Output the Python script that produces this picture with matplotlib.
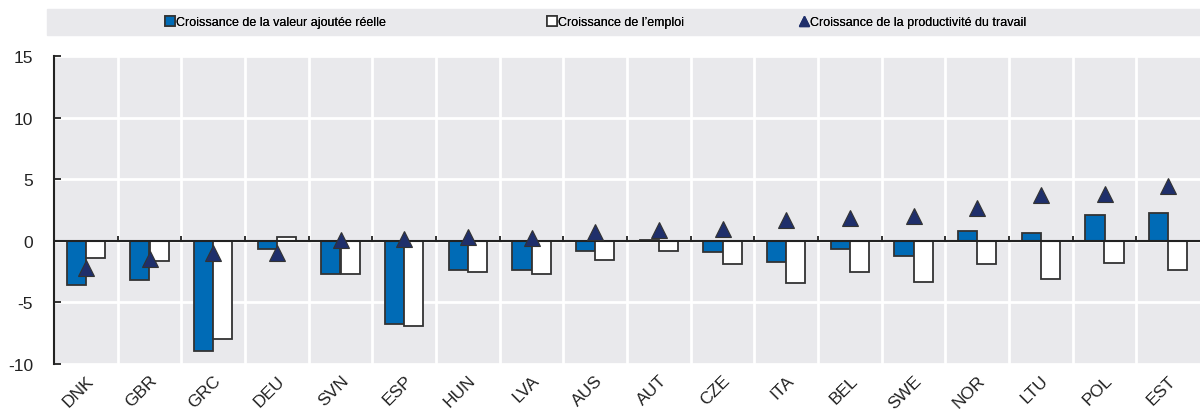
import matplotlib.pyplot as plt
import numpy as np
from matplotlib.lines import Line2D
from matplotlib.patches import Rectangle

plt.rcParams.update({
    "font.family": ["Liberation Sans", "DejaVu Sans"],
    "font.size": 12,
    "axes.unicode_minus": False,
})

countries = ["DNK", "GBR", "GRC", "DEU", "SVN", "ESP", "HUN", "LVA", "AUS",
             "AUT", "CZE", "ITA", "BEL", "SWE", "NOR", "LTU", "POL", "EST"]
va_growth = [-3.56, -3.16, -8.97, -0.67, -2.67, -6.77, -2.33, -2.41, -0.80,
             0.05, -0.93, -1.74, -0.64, -1.25, 0.83, 0.67, 2.08, 2.25]
emp_growth = [-1.41, -1.68, -7.95, 0.32, -2.67, -6.88, -2.54, -2.67, -1.55,
              -0.85, -1.87, -3.44, -2.56, -3.31, -1.92, -3.07, -1.84, -2.33]
prod_growth = [-2.2, -1.5, -0.99, -0.95, 0.05, 0.14, 0.27, 0.24, 0.75,
               0.88, 0.99, 1.65, 1.87, 1.98, 2.67, 3.68, 3.82, 4.47]

labels = ["Croissance de la valeur ajoutée réelle",
          "Croissance de l\u2019emploi",
          "Croissance de la productivité du travail"]

blue = "#006bb6"
navy = "#1f2f6b"
edge = "#333333"
bg = "#e9e9ec"

fig = plt.figure(figsize=(12, 4.1), dpi=100)
ax = fig.add_axes([54 / 1200, 45 / 410, 1 - 54 / 1200, 308 / 410])
ax.set_facecolor(bg)

x = np.arange(len(countries))
w = 0.3
ax.bar(x - w / 2, va_growth, w, color=blue, edgecolor=edge, linewidth=1.3, zorder=3)
ax.bar(x + w / 2, emp_growth, w, color="white", edgecolor=edge, linewidth=1.3, zorder=3)
ax.plot(x, prod_growth, ls="none", marker="^", ms=11, color=navy,
        markeredgecolor=edge, markeredgewidth=0.8, zorder=5)

ax.axhline(0, color="#222222", lw=1.5, zorder=4)
ax.vlines(x[:-1] + 0.5, 0, 0.4, color="#222222", lw=1.3, zorder=4)

ax.set_xlim(-0.5, len(countries) - 0.5)
ax.set_ylim(-10, 15)
ax.set_yticks([-10, -5, 0, 5, 10, 15])
ax.set_xticks(x)
ax.set_xticklabels(countries, rotation=45, ha="right", va="top",
                   rotation_mode="anchor", fontsize=12.5, color="#222222")
ax.set_xticks(x[:-1] + 0.5, minor=True)
ax.tick_params(axis="x", which="both", length=0, pad=6)
ax.tick_params(axis="y", length=5, direction="in", width=1.3,
               labelsize=12.5, colors="#222222", pad=15)

ax.grid(True, axis="y", color="white", lw=2, zorder=1)
ax.grid(True, axis="x", which="minor", color="white", lw=2, zorder=1)
ax.set_axisbelow(True)

for s in ["top", "right", "bottom"]:
    ax.spines[s].set_visible(False)
ax.spines["left"].set_color("#222222")
ax.spines["left"].set_linewidth(1.5)

# legend band
fig.patches.append(Rectangle((47 / 1200, 1 - 36 / 410), 1 - 47 / 1200, 26 / 410,
                             transform=fig.transFigure, color=bg, zorder=0))
handles = [
    Line2D([], [], ls="none", marker="s", ms=7.5, color=blue, markeredgecolor=edge, markeredgewidth=1.2),
    Line2D([], [], ls="none", marker="s", ms=7.5, color="white", markeredgecolor=edge, markeredgewidth=1.2),
    Line2D([], [], ls="none", marker="^", ms=7, color=navy, markeredgecolor=navy),
]
legend_x = [165, 547, 799]
for h, lab, lx in zip(handles, labels, legend_x):
    leg = fig.legend([h], [lab], loc="center left", bbox_to_anchor=(lx / 1200, 1 - 23 / 410),
                     frameon=False, fontsize=9, handletextpad=0.1,
                     handlelength=0.8, borderpad=0, borderaxespad=0)
    fig.add_artist(leg)

fig.savefig("out.png", dpi=100)
